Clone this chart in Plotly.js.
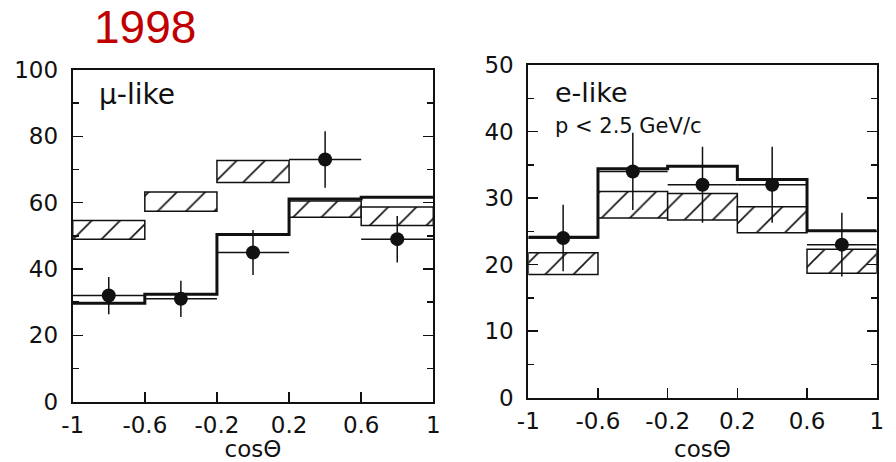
<!DOCTYPE html>
<html>
<head>
<meta charset="utf-8">
<script src="https://cdn.plot.ly/plotly-3.0.1.min.js"></script>
<style>html,body{margin:0;padding:0;background:#fff;}#chart{width:896px;height:462px;}</style>
</head>
<body>
<div id="chart"></div>
<script>
// ---- data ----
const binCenters = [-0.8, -0.4, 0.0, 0.4, 0.8];
const binEdges = [-1, -0.6, -0.2, 0.2, 0.6, 1];
const xTickVals = [-1, -0.6, -0.2, 0.2, 0.6, 1];
const xTickText = ['-1', '-0.6', '-0.2', '0.2', '0.6', '1'];

// mu-like
const muData = [32, 31, 45, 73, 49];
const muErr = [5.6, 5.5, 6.8, 8.5, 7.0];
const muFit = [29.7, 32.4, 50.4, 61.1, 61.6];
const muNoOscLow = [49.0, 57.4, 66.1, 55.6, 53.1];
const muNoOscHigh = [54.6, 63.2, 72.7, 60.5, 58.7];

// e-like
const eData = [24, 34, 32, 32, 23];
const eErr = [5.0, 5.8, 5.7, 5.7, 4.8];
const eFit = [24.1, 34.4, 34.8, 32.8, 25.1];
const eNoOscLow = [18.5, 27.0, 26.7, 24.8, 18.7];
const eNoOscHigh = [21.8, 31.0, 30.7, 28.7, 22.3];

const INK = '#111111';
const tickFont = {family: 'DejaVu Sans', size: 23, color: INK};

function band(low, high, xa, ya) {
  return {
    type: 'bar', x: binCenters, base: low,
    y: high.map((h, i) => h - low[i]),
    width: 0.4, xaxis: xa, yaxis: ya, showlegend: false, hoverinfo: 'skip',
    marker: {color: 'white', line: {color: INK, width: 1.5},
             pattern: {shape: '/', size: 20, solidity: 0.08, fgcolor: INK, bgcolor: 'white', fillmode: 'replace'}}
  };
}
function step(vals, xa, ya) {
  return {
    type: 'scatter', mode: 'lines', x: binEdges, y: vals.concat([vals[vals.length - 1]]),
    line: {shape: 'hv', color: INK, width: 3}, xaxis: xa, yaxis: ya, showlegend: false, hoverinfo: 'skip'
  };
}
function points(vals, errs, xa, ya) {
  return {
    type: 'scatter', mode: 'markers', x: binCenters, y: vals, xaxis: xa, yaxis: ya, showlegend: false,
    marker: {color: INK, size: 14, symbol: 'circle'},
    error_y: {type: 'data', array: errs, visible: true, width: 0, thickness: 1.5, color: INK},
    error_x: {type: 'constant', value: 0.2, visible: true, width: 0, thickness: 1.5, color: INK}
  };
}

const data = [
  band(muNoOscLow, muNoOscHigh, 'x', 'y'),
  step(muFit, 'x', 'y'),
  points(muData, muErr, 'x', 'y'),
  band(eNoOscLow, eNoOscHigh, 'x2', 'y2'),
  step(eFit, 'x2', 'y2'),
  points(eData, eErr, 'x2', 'y2')
];

function xAxis(domain, anchor) {
  return {
    domain: domain, anchor: anchor, range: [-1, 1], tickvals: xTickVals, ticktext: xTickText,
    ticks: 'inside', ticklen: 10, tickwidth: 1.5, tickcolor: INK,
    showline: true, mirror: true, linewidth: 2, linecolor: INK,
    showgrid: false, zeroline: false, tickfont: tickFont, ticklabelstandoff: 2,
    title: {text: 'cosΘ', font: {family: 'DejaVu Sans', size: 23, color: INK}, standoff: 10}
  };
}
function yAxis(domain, anchor, range, dtick, minor) {
  return {
    domain: domain, anchor: anchor, range: range, dtick: dtick, tick0: 0,
    ticks: 'inside', ticklen: 10, tickwidth: 1.5, tickcolor: INK,
    minor: {dtick: minor, tick0: 0, ticks: 'inside', ticklen: 6, tickwidth: 1.5, tickcolor: INK, showgrid: false},
    showline: true, mirror: 'ticks', linewidth: 2, linecolor: INK,
    showgrid: false, zeroline: false, tickfont: tickFont, ticklabelstandoff: 8
  };
}

const layout = {
  width: 896, height: 462,
  margin: {l: 0, r: 0, t: 0, b: 0},
  paper_bgcolor: 'white', plot_bgcolor: 'white',
  showlegend: false,
  title: {text: '1998', x: 94 / 896, xanchor: 'left', y: 1 - 27 / 462, yanchor: 'middle',
          font: {family: 'Liberation Sans', size: 46, color: '#c00000'}},
  xaxis: xAxis([72.7 / 896, 433.3 / 896], 'y'),
  yaxis: yAxis([1 - 401.7 / 462, 1 - 70 / 462], 'x', [0, 100], 20, 10),
  xaxis2: xAxis([528.3 / 896, 876.7 / 896], 'y2'),
  yaxis2: yAxis([1 - 397.7 / 462, 1 - 65 / 462], 'x2', [0, 50], 10, 5),
  annotations: [
    {text: 'μ-like', xref: 'paper', yref: 'paper', x: 97 / 896, y: 1 - 95 / 462, xanchor: 'left', yanchor: 'middle',
     showarrow: false, font: {family: 'DejaVu Sans', size: 28, color: INK}},
    {text: 'e-like', xref: 'paper', yref: 'paper', x: 553 / 896, y: 1 - 92 / 462, xanchor: 'left', yanchor: 'middle',
     showarrow: false, font: {family: 'DejaVu Sans', size: 27, color: INK}},
    {text: 'p &lt; 2.5 GeV/c', xref: 'paper', yref: 'paper', x: 553 / 896, y: 1 - 125.8 / 462, xanchor: 'left', yanchor: 'middle',
     showarrow: false, font: {family: 'DejaVu Sans', size: 21, color: INK}}
  ]
};

Plotly.newPlot('chart', data, layout, {staticPlot: true, displayModeBar: false});
</script>
</body>
</html>
